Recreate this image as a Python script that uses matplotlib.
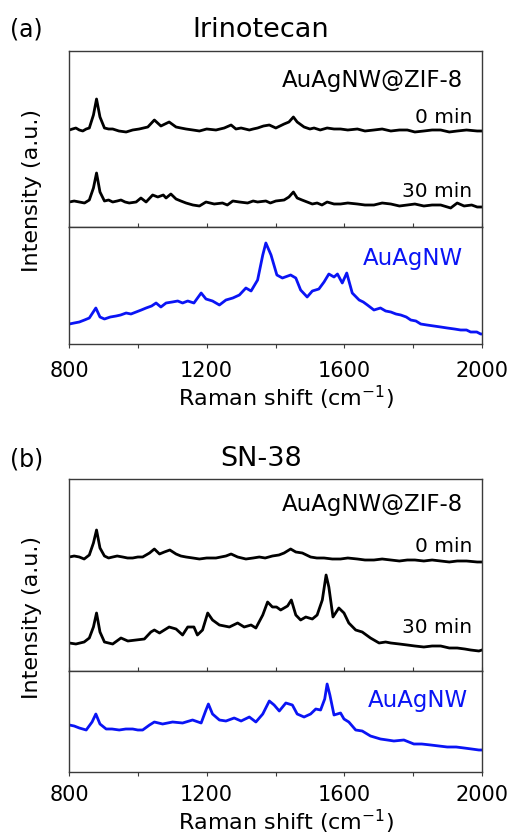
import matplotlib
matplotlib.use("Agg")
import matplotlib.pyplot as plt

plt.rcParams['font.family'] = ['DejaVu Sans']
plt.rcParams['mathtext.fontset'] = 'dejavusans'

# ---------------- data (Raman shift, intensity a.u.) ----------------
a0_x = [801, 810, 820, 830, 840, 850, 859, 871, 880, 890, 903, 915, 927, 945, 966, 985, 1004, 1029, 1048,
        1067, 1091, 1111, 1125, 1140, 1160, 1179, 1200, 1227, 1251, 1271, 1285, 1300, 1324, 1335, 1348,
        1365, 1382, 1401, 1425, 1439, 1452, 1463, 1483, 1500, 1512, 1530, 1550, 1570, 1589, 1610, 1638,
        1660, 1686, 1710, 1735, 1760, 1783, 1805, 1831, 1855, 1880, 1905, 1928, 1955, 1986, 2000]
a0_y = [97, 98, 99, 97, 96, 98, 99, 112, 128, 110, 99, 98, 98, 96, 95, 97, 98, 100, 107,
        101, 105, 100, 99, 98, 97, 96, 98, 97, 99, 102, 98, 99, 97, 98, 99,
        101, 102, 99, 103, 105, 110, 105, 100, 98, 99, 97, 99, 98, 98, 97, 98,
        96, 97, 98, 96, 97, 97, 95, 96, 97, 97, 95, 96, 97, 96, 96]

a30_x = [801, 815, 830, 845, 859, 871, 880, 890, 903, 915, 927, 940, 951, 963, 975, 995, 1009, 1024, 1043,
         1058, 1074, 1082, 1096, 1111, 1125, 1140, 1160, 1179, 1198, 1222, 1246, 1260, 1276, 1295, 1319,
         1335, 1348, 1372, 1385, 1401, 1425, 1439, 1452, 1463, 1477, 1492, 1507, 1521, 1535, 1550, 1570,
         1589, 1610, 1638, 1660, 1686, 1710, 1735, 1760, 1783, 1805, 1831, 1855, 1880, 1909, 1928, 1948,
         1970, 1986, 2000]
a30_y = [25, 26, 25, 24, 27, 39, 54, 35, 26, 27, 25, 26, 27, 25, 24, 25, 29, 25, 32,
         30, 32, 29, 33, 28, 26, 24, 22, 21, 25, 23, 24, 22, 26, 25, 24,
         26, 25, 26, 24, 26, 27, 30, 35, 29, 27, 25, 23, 24, 22, 25, 23,
         23, 24, 23, 22, 22, 24, 23, 21, 22, 23, 21, 22, 22, 19, 24, 21,
         22, 20, 20]

aNW_x = [801, 815, 830, 845, 859, 878, 890, 903, 920, 937, 950, 966, 980, 995, 1010, 1024, 1040, 1053, 1067,
         1082, 1100, 1116, 1130, 1145, 1163, 1184, 1198, 1217, 1237, 1256, 1276, 1295, 1314, 1329, 1348,
         1363, 1372, 1387, 1404, 1420, 1444, 1459, 1473, 1492, 1507, 1526, 1541, 1555, 1570, 1580, 1594,
         1607, 1623, 1643, 1655, 1667, 1686, 1705, 1720, 1735, 1750, 1764, 1780, 1793, 1808, 1822, 1840,
         1860, 1880, 1899, 1920, 1938, 1955, 1967, 1985, 1996, 2000]
aNW_y = [20, 21, 22, 24, 26, 36, 27, 25, 27, 28, 29, 31, 30, 32, 34, 36, 38, 41, 37,
         41, 42, 43, 41, 43, 41, 51, 45, 43, 39, 44, 46, 49, 56, 53, 64,
         89, 101, 89, 69, 66, 69, 66, 54, 47, 53, 55, 62, 70, 67, 70, 61,
         71, 51, 44, 42, 39, 34, 36, 33, 32, 30, 29, 27, 24, 23, 20, 19,
         18, 17, 16, 15, 14, 14, 12, 12, 10, 10]

b0_x = [801, 815, 830, 844, 859, 871, 880, 890, 903, 915, 927, 940, 956, 970, 985, 1000, 1014, 1034, 1048,
        1063, 1077, 1093, 1111, 1125, 1140, 1160, 1179, 1200, 1227, 1256, 1271, 1290, 1314, 1335, 1353,
        1370, 1391, 1410, 1425, 1444, 1459, 1478, 1502, 1520, 1541, 1565, 1589, 1610, 1638, 1660, 1686,
        1710, 1735, 1760, 1783, 1805, 1831, 1855, 1880, 1905, 1928, 1955, 1986, 2000]
b0_y = [114, 115, 114, 112, 116, 128, 141, 123, 115, 113, 114, 115, 114, 113, 113, 114, 114, 118, 122,
        117, 119, 121, 117, 115, 114, 113, 112, 113, 113, 115, 117, 114, 112, 113, 114,
        113, 115, 116, 118, 122, 119, 118, 114, 113, 113, 112, 112, 113, 112, 111, 111,
        112, 111, 110, 111, 111, 110, 111, 110, 109, 110, 110, 109, 109]

b30_x = [801, 820, 844, 859, 871, 880, 890, 903, 927, 951, 971, 995, 1019, 1038, 1048, 1063, 1091, 1111,
         1130, 1145, 1163, 1173, 1188, 1203, 1217, 1237, 1266, 1290, 1309, 1329, 1343, 1363, 1377, 1391,
         1403, 1415, 1435, 1446, 1459, 1473, 1488, 1507, 1521, 1536, 1547, 1555, 1567, 1584, 1599, 1613,
         1633, 1652, 1676, 1701, 1720, 1735, 1760, 1783, 1805, 1831, 1855, 1880, 1905, 1928, 1950, 1967,
         1991, 2000]
b30_y = [28, 27, 29, 33, 44, 58, 39, 29, 27, 33, 30, 31, 32, 39, 41, 38, 44, 42,
         36, 44, 44, 36, 41, 58, 51, 46, 44, 48, 44, 46, 43, 56, 69, 64,
         64, 61, 65, 71, 56, 51, 54, 52, 56, 71, 96, 84, 54, 63, 58, 48,
         41, 39, 33, 28, 29, 28, 27, 26, 25, 24, 25, 25, 23, 23, 22, 21,
         20, 21]

bNW_x = [801, 815, 830, 850, 867, 878, 890, 908, 925, 946, 965, 985, 1000, 1014, 1034, 1048, 1072, 1101,
         1130, 1159, 1184, 1198, 1205, 1217, 1237, 1256, 1280, 1300, 1324, 1343, 1363, 1382, 1396, 1411,
         1430, 1449, 1463, 1483, 1502, 1517, 1531, 1543, 1550, 1558, 1570, 1589, 1599, 1613, 1633, 1652,
         1676, 1705, 1725, 1744, 1773, 1802, 1825, 1851, 1875, 1899, 1925, 1948, 1970, 1991, 2000]
bNW_y = [47, 46, 44, 42, 50, 58, 48, 43, 43, 42, 43, 43, 42, 42, 47, 50, 48, 50,
         49, 52, 49, 62, 68, 58, 52, 51, 54, 51, 55, 50, 58, 71, 67, 61,
         69, 67, 58, 55, 58, 63, 62, 73, 88, 77, 57, 59, 53, 50, 42, 41,
         36, 33, 32, 31, 32, 28, 28, 27, 26, 25, 25, 24, 23, 22, 22]

panels = [
    dict(tag="(a)", title="Irinotecan", s0=(a0_x, a0_y), s30=(a30_x, a30_y), nw=(aNW_x, aNW_y)),
    dict(tag="(b)", title="SN-38", s0=(b0_x, b0_y), s30=(b30_x, b30_y), nw=(bNW_x, bNW_y)),
]
xticks_major = [800, 1200, 1600, 2000]
xticks_all = [800, 1000, 1200, 1400, 1600, 1800, 2000]

# ---------------- layout (pixels) ----------------
W, H = 508, 838
fig = plt.figure(figsize=(W / 100, H / 100), dpi=100)

def fx(px):
    return px / W

def fy(py):
    return 1 - py / H

L, R = 69, 482
geo = [
    dict(top=51, mid=227, bot=344, up_ylim=176, lo_ylim=117, tag_y=37, tick_pad=9.0, xl_y=406,
         ylab_c=190, lab_ZIF=87, lab0=123, lab30=197, labNW=265, nw_right=463),
    dict(top=479, mid=671, bot=772, up_ylim=192, lo_ylim=101, tag_y=466, tick_pad=6.5, xl_y=830,
         ylab_c=617, lab_ZIF=511, lab0=552, lab30=633, labNW=707, nw_right=468),
]

spine_col = '#3a3a3a'
blue = '#0a14f5'

for p, g in zip(panels, geo):
    ax_up = fig.add_axes([fx(L), fy(g['mid']), fx(R) - fx(L), fy(g['top']) - fy(g['mid'])])
    ax_lo = fig.add_axes([fx(L), fy(g['bot']), fx(R) - fx(L), fy(g['mid']) - fy(g['bot'])], sharex=ax_up)

    ax_up.plot(*p['s0'], color='black', lw=2.0, solid_joinstyle='round')
    ax_up.plot(*p['s30'], color='black', lw=2.0, solid_joinstyle='round')
    ax_lo.plot(*p['nw'], color=blue, lw=2.0, solid_joinstyle='round')

    ax_up.set_ylim(0, g['up_ylim'])
    ax_lo.set_ylim(0, g['lo_ylim'])
    ax_lo.set_xlim(800, 2000)

    for ax in (ax_up, ax_lo):
        ax.set_yticks([])
        for s in ax.spines.values():
            s.set_color(spine_col)
            s.set_linewidth(1.0)
    ax_up.set_xticks(xticks_all)
    ax_up.tick_params(axis='x', direction='in', length=3, width=0.8, color=spine_col,
                      labelbottom=False)
    ax_lo.set_xticks(xticks_all)
    ax_lo.set_xticklabels([str(t) if t in xticks_major else '' for t in xticks_all])
    ax_lo.tick_params(axis='x', direction='out', length=3, width=0.8, color=spine_col,
                      labelsize=15, pad=g['tick_pad'])

    # texts
    fig.text(fx(10), fy(g['tag_y']), p['tag'], fontsize=17, va='baseline', ha='left')
    fig.text(fx(261), fy(g['tag_y']), p['title'], fontsize=19.5, va='baseline', ha='center')
    fig.text(fx(463), fy(g['lab_ZIF']), 'AuAgNW@ZIF-8', fontsize=16.5, va='baseline', ha='right')
    fig.text(fx(472), fy(g['lab0']), '0 min', fontsize=14.5, va='baseline', ha='right')
    fig.text(fx(472), fy(g['lab30']), '30 min', fontsize=14.5, va='baseline', ha='right')
    fig.text(fx(g['nw_right']), fy(g['labNW']), 'AuAgNW', fontsize=16.5, va='baseline', ha='right',
             color=blue)
    fig.text(fx(286), fy(g['xl_y']), 'Raman shift (cm$^{-1}$)', fontsize=16, va='baseline',
             ha='center')
    fig.text(fx(32), fy(g['ylab_c']), 'Intensity (a.u.)', fontsize=16,
             rotation=90, va='center', ha='center')

fig.savefig('out.png', dpi=100)
